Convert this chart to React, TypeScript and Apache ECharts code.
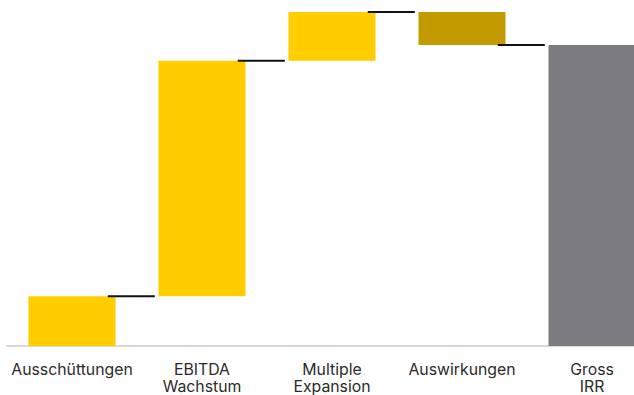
import React, { useEffect, useRef } from "react";
import * as echarts from "echarts";

const categories = ["Ausschüttungen", "EBITDA\nWachstum", "Multiple\nExpansion", "Auswirkungen", "Gross\nIRR"];
const steps = [2.5, 11.8, 2.45, -1.65];
const stepColors = ["#FFCD00", "#FFCD00", "#FFCD00", "#C39B00"];
const totalColor = "#7C7B80";

export default function App() {
  const ref = useRef<HTMLDivElement>(null);

  useEffect(() => {
    if (!ref.current) return;
    const chart = echarts.init(ref.current, null, { renderer: "svg" });

    const base: number[] = [];
    const heights: any[] = [];
    const connectors: number[][] = [];
    let cum = 0;
    steps.forEach((s, i) => {
      const next = cum + s;
      base.push(Math.min(cum, next));
      heights.push({ value: Math.abs(s), itemStyle: { color: stepColors[i] } });
      connectors.push([i, next]);
      cum = next;
    });
    const total = Math.round(cum * 100) / 100;
    base.push(0);
    heights.push({ value: total, itemStyle: { color: totalColor } });

    chart.setOption({
      animation: false,
      grid: { left: 7, top: 7, width: 650, height: 340 },
      xAxis: {
        type: "category",
        data: categories,
        axisLine: { show: true, lineStyle: { color: "#d9d9d9", width: 2 } },
        axisTick: { show: false },
        axisLabel: {
          interval: 0,
          margin: 15,
          color: "#2b2b2b",
          fontFamily: "Inter",
          fontSize: 15.8,
          lineHeight: 17,
        },
      },
      yAxis: { type: "value", min: 0, max: 17, show: false, splitLine: { show: false } },
      series: [
        {
          type: "bar",
          stack: "w",
          data: base,
          itemStyle: { color: "transparent" },
          barWidth: 87,
          silent: true,
        },
        {
          type: "bar",
          stack: "w",
          data: heights,
          barWidth: 87,
        },
        {
          type: "custom",
          data: connectors,
          renderItem: (params: any, api: any) => {
            const p = api.coord([api.value(0), api.value(1)]);
            const bw = api.size([1, 0])[0];
            return {
              type: "line",
              shape: { x1: p[0] + 0.275 * bw, y1: p[1], x2: p[0] + 0.637 * bw, y2: p[1] },
              style: { stroke: "#111111", lineWidth: 2 },
            };
          },
          z: 5,
        },
      ],
    });
    return () => chart.dispose();
  }, []);

  return (
    <div style={{ position: "absolute", left: 0, top: 0, width: 634, height: 395, overflow: "hidden" }}>
      <div ref={ref} style={{ width: 680, height: 395 }} />
    </div>
  );
}
